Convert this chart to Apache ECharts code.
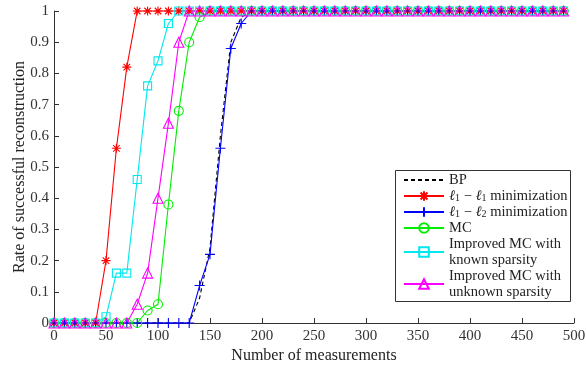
<!DOCTYPE html>
<html>
<head>
<meta charset="utf-8">
<script src="https://cdn.jsdelivr.net/npm/echarts@6/dist/echarts.min.js"></script>
<style>html,body{margin:0;padding:0;background:#fff}#c{width:586px;height:366px}</style>
</head>
<body>
<div id="c"></div>
<script>
const measurements = [0,10,20,30,40,50,60,70,80,90,100,110,120,130,140,150,160,170,180,190,200,210,220,230,240,250,260,270,280,290,300,310,320,330,340,350,360,370,380,390,400,410,420,430,440,450,460,470,480,490];
const bpValues   = [0,0,0,0,0,0,0,0,0,0,0,0,0,0,0.08,0.24,0.6,0.9,0.98,1,1,1,1,1,1,1,1,1,1,1,1,1,1,1,1,1,1,1,1,1,1,1,1,1,1,1,1,1,1,1];
const l1l1Values = [0,0,0,0,0,0.2,0.56,0.82,1,1,1,1,1,1,1,1,1,1,1,1,1,1,1,1,1,1,1,1,1,1,1,1,1,1,1,1,1,1,1,1,1,1,1,1,1,1,1,1,1,1];
const l1l2Values = [0,0,0,0,0,0,0,0,0,0,0,0,0,0,0.12,0.22,0.56,0.88,0.96,1,1,1,1,1,1,1,1,1,1,1,1,1,1,1,1,1,1,1,1,1,1,1,1,1,1,1,1,1,1,1];
const mcValues   = [0,0,0,0,0,0,0,0,0,0.04,0.06,0.38,0.68,0.9,0.98,1,1,1,1,1,1,1,1,1,1,1,1,1,1,1,1,1,1,1,1,1,1,1,1,1,1,1,1,1,1,1,1,1,1,1];
const knownValues= [0,0,0,0,0,0.02,0.16,0.16,0.46,0.76,0.84,0.96,1,1,1,1,1,1,1,1,1,1,1,1,1,1,1,1,1,1,1,1,1,1,1,1,1,1,1,1,1,1,1,1,1,1,1,1,1,1];
const unknownValues=[0,0,0,0,0,0,0,0,0.06,0.16,0.4,0.64,0.9,1,1,1,1,1,1,1,1,1,1,1,1,1,1,1,1,1,1,1,1,1,1,1,1,1,1,1,1,1,1,1,1,1,1,1,1,1];
const seriesNames = ['BP','l1-l1','l1-l2','MC','Improved MC with known sparsity','Improved MC with unknown sparsity'];
const legendLabels = {
  'BP':'BP',
  'l1-l1':'{l|ℓ}{s|1} − {l|ℓ}{s|1} minimization',
  'l1-l2':'{l|ℓ}{s|1} − {l|ℓ}{s|2} minimization',
  'MC':'MC',
  'Improved MC with known sparsity':'Improved MC with\nknown sparsity',
  'Improved MC with unknown sparsity':'Improved MC with\nunknown sparsity'
};
const xTickLabels = [0,50,100,150,200,250,300,350,400,450,500];
const yTickLabels = [0,0.1,0.2,0.3,0.4,0.5,0.6,0.7,0.8,0.9,1];

const FONT = 'Liberation Serif';
const pair = v => measurements.map((x,i)=>[x,v[i]]);
const star = 'path://M0,-5L0,5M-5,0L5,0M-3.6,-3.6L3.6,3.6M-3.6,3.6L3.6,-3.6';
const plus = 'path://M0,-5L0,5M-5,0L5,0';
function mk(name, data, color, symbol, size, dashed){
  return {
    name, type:'line', data:pair(data), clip:false, animation:false, z:3,
    symbol: symbol, symbolSize: size, showSymbol: symbol!=='none',
    lineStyle:{color, width:1.1, type: dashed?[4,3]:'solid'},
    itemStyle:{color:'rgba(0,0,0,0)', borderColor:color, borderWidth:1.1},
    emphasis:{disabled:true}
  };
}
const chart = echarts.init(document.getElementById('c'), null, {renderer:'canvas'});
chart.setOption({
  backgroundColor:'#fff',
  animation:false,
  grid:{left:54, right:12, top:11, bottom:43, containLabel:false, outerBoundsMode:'none'},
  xAxis:{type:'value', min:0, max:500, interval:50,
    name:'Number of measurements', nameLocation:'middle', nameGap:25, nameMoveOverlap:false,
    nameTextStyle:{fontFamily:FONT, fontSize:16, color:'#222'},
    axisLine:{lineStyle:{color:'#333'}},
    axisTick:{inside:true, length:5, lineStyle:{color:'#333'}},
    axisLabel:{fontFamily:FONT, fontSize:15, color:'#333', margin:6,
      formatter:v=>xTickLabels.includes(v)?String(v):''},
    splitLine:{show:false}},
  yAxis:{type:'value', min:0, max:1, interval:0.1,
    name:'Rate of successful reconstruction', nameLocation:'middle', nameGap:26, nameMoveOverlap:false,
    nameTextStyle:{fontFamily:FONT, fontSize:16, color:'#222'},
    axisLine:{show:true, lineStyle:{color:'#333'}},
    axisTick:{show:true, inside:true, length:5, lineStyle:{color:'#333'}},
    axisLabel:{fontFamily:FONT, fontSize:15, color:'#333', margin:5,
      formatter:v=>{const t=yTickLabels.find(y=>Math.abs(y-v)<1e-9);return t===undefined?'':String(t);}},
    splitLine:{show:false}},
  graphic:[{type:'rect', x:395.5, y:170.5, z:10,
    shape:{x:0, y:0, width:175, height:131}, style:{fill:'#fff', stroke:'#333', lineWidth:1}}],
  legend:{
    orient:'vertical', left:395, top:170, z:20,
    borderWidth:0, backgroundColor:'transparent',
    padding:[2,0,2,8], itemGap:0, itemWidth:40, itemHeight:12,
    data:[{name:'BP', itemStyle:{opacity:0}}].concat(seriesNames.slice(1)),
    formatter:n=>legendLabels[n],
    textStyle:{fontFamily:FONT, fontSize:14.5, color:'#222', lineHeight:16,
      rich:{l:{fontFamily:FONT, fontSize:14.5, fontStyle:'italic', color:'#222', lineHeight:16}, s:{fontFamily:FONT, fontSize:10, color:'#222', lineHeight:16, padding:[5,0,0,0]}}}
  },
  series:[
    mk('BP', bpValues, '#000', 'none', 0, true),
    mk('l1-l1', l1l1Values, '#ff0000', star, 9),
    mk('l1-l2', l1l2Values, '#0000ff', plus, 10),
    mk('MC', mcValues, '#00ee00', 'circle', 9),
    mk('Improved MC with known sparsity', knownValues, '#00e8ee', 'rect', 8),
    mk('Improved MC with unknown sparsity', unknownValues, '#ff00ff', 'triangle', 10)
  ]
});
</script>
</body>
</html>
